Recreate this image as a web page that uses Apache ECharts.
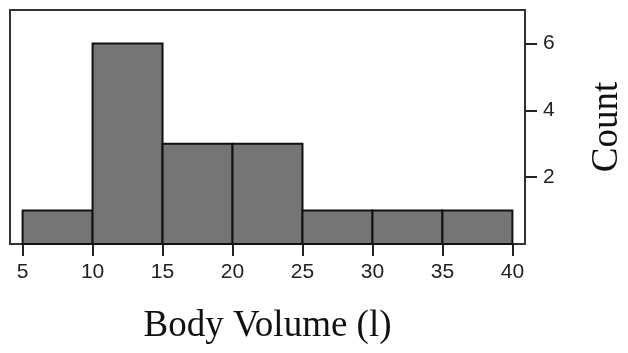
<!DOCTYPE html>
<html>
<head>
<meta charset="utf-8">
<script src="https://cdn.jsdelivr.net/npm/echarts@6/dist/echarts.min.js"></script>
<style>html,body{margin:0;padding:0;background:#fff}#c{width:628px;height:353px}</style>
</head>
<body>
<div id="c"></div>
<script>
const binStarts = [5, 10, 15, 20, 25, 30, 35];
const binEnds = [10, 15, 20, 25, 30, 35, 40];
const counts = [1, 6, 3, 3, 1, 1, 1];
const xTicks = [5, 10, 15, 20, 25, 30, 35, 40];
const yTicks = [2, 4, 6];
const xTitle = 'Body Volume (l)';
const yTitle = 'Count';

const data = binStarts.map((s, i) => [s, binEnds[i], counts[i]]);
const chart = echarts.init(document.getElementById('c'), null, {renderer: 'canvas'});
chart.setOption({
  animation: false,
  backgroundColor: '#fff',
  grid: {left: 10, right: 103, top: 10, bottom: 109, containLabel: false, outerBoundsMode: 'none',
         show: true, borderColor: '#333', borderWidth: 2, backgroundColor: 'transparent'},
  xAxis: {
    type: 'value', min: 4.1, max: 40.9,
    axisLine: {show: false},
    splitLine: {show: false},
    axisTick: {show: true, customValues: xTicks, length: 12, lineStyle: {color: '#222', width: 2}},
    axisLabel: {customValues: xTicks, margin: 18, fontFamily: 'Liberation Sans', fontSize: 21, color: '#222'},
    name: xTitle, nameLocation: 'middle', nameGap: 64,
    nameTextStyle: {fontFamily: 'Liberation Serif', fontSize: 37, color: '#111'}
  },
  yAxis: {
    type: 'value', position: 'right', min: 0, max: 7,
    axisLine: {show: false},
    splitLine: {show: false},
    axisTick: {show: true, customValues: yTicks, length: 12, lineStyle: {color: '#222', width: 2}},
    axisLabel: {customValues: yTicks, margin: 18, fontFamily: 'Liberation Sans', fontSize: 21, color: '#222'},
    name: yTitle, nameLocation: 'middle', nameGap: 64, nameRotate: 90,
    nameTextStyle: {fontFamily: 'Liberation Serif', fontSize: 37, color: '#111'}
  },
  series: [{
    type: 'custom',
    data: data,
    encode: {x: [0, 1], y: 2},
    renderItem: function (params, api) {
      const p0 = api.coord([api.value(0), 0]);
      const p1 = api.coord([api.value(1), api.value(2)]);
      return {
        type: 'rect',
        shape: {x: p0[0], y: p1[1], width: p1[0] - p0[0], height: p0[1] - p1[1]},
        style: {fill: '#757575', stroke: '#111', lineWidth: 2}
      };
    }
  }]
});
</script>
</body>
</html>
